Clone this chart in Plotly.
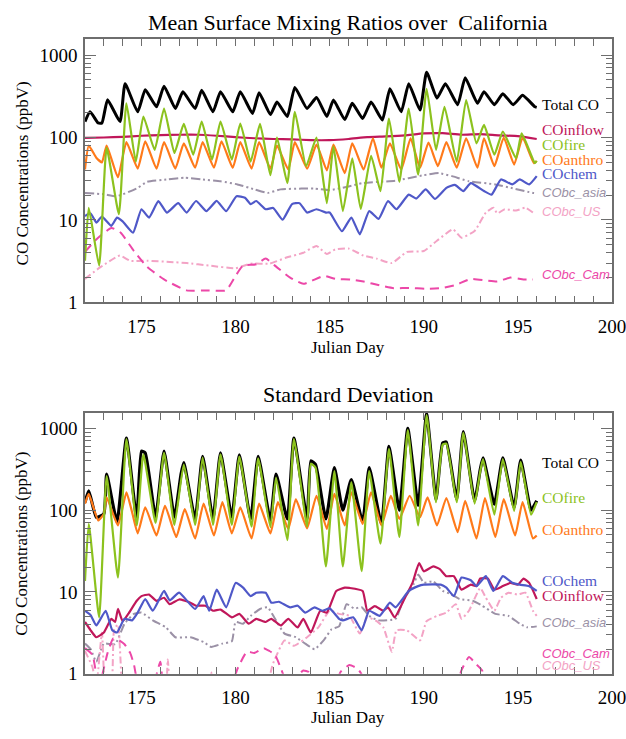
import plotly.graph_objects as go

# ---------------- data: mean mixing ratios (top panel) ----------------
mean_total_day = [172.0,172.27,172.7,172.9,173.2,173.86,174.13,174.8,175.2,175.8,176.2,176.8,177.2,177.85,178.2,178.8,179.2,179.85,180.25,180.9,181.25,181.85,182.2,182.75,183.15,183.8,184.3,184.85,185.2,185.8,186.2,186.75,187.2,187.8,188.2,188.8,189.2,189.8,190.15,190.7,191.15,191.8,192.2,192.85,193.2,193.75,194.2,194.75,195.25,195.9,196.0]
mean_total_val = [156,205,150,150,287,156,450,205,380,236,420,225,358,225,375,205,360,205,360,196,350,190,270,180,405,225,305,180,285,165,260,170,270,163,390,205,450,215,620,300,450,250,530,260,360,250,340,250,325,236,232]

mean_fire_day = [172.0,172.2,172.75,173.15,173.8,174.2,174.7,175.1,175.7,176.2,176.75,177.25,177.75,178.2,178.75,179.2,179.8,180.25,180.8,181.3,181.85,182.2,182.75,183.15,183.75,184.3,184.85,185.2,185.7,186.2,186.65,187.2,187.7,188.15,188.7,189.2,189.7,190.15,190.65,191.1,191.75,192.25,192.8,193.2,193.75,194.2,194.9,195.2,195.9,196.0]
mean_fire_val = [3.2,14,2.8,75,11.8,260,51,180,71,225,65,146,62,156,54,156,54,148,51,146,35,100,28,205,45,100,16,78,12.8,56,13.6,60,22.4,170,29,225,35.5,390,71,236,51,285,85,142,62,118,56,112,49,52]

mean_anthro_day = [172.0,172.2,172.6,172.9,173.15,173.75,174.2,174.8,175.2,175.8,176.2,176.8,177.25,177.85,178.25,178.85,179.25,179.85,180.25,180.85,181.25,181.85,182.2,182.8,183.15,183.8,184.3,184.85,185.2,185.8,186.2,186.8,187.3,187.75,188.2,188.8,189.3,189.8,190.25,190.75,191.2,191.75,192.25,192.85,193.2,193.75,194.25,194.8,195.25,195.85,196.0]
mean_anthro_val = [41,80,57,50,80,33,88,42,90,42,88,42,85,43,88,43,90,43,88,42,88,42,80,41,88,42,82,40,82,37,85,41,98,43,85,41,98,43,87,45,88,43,98,43,98,45,100,47,100,49,52]

mean_inflow_day = [172,173,174,175,176,177,178,179,180,181,182,183,184,185,186,187,188,189,190,191,192,193,194,195,196]
mean_inflow_val = [99,100,102,105,107,108,108,105,101,98,96,95,93,93,96,101,103,106,112,113,108,110,106,104,96]

mean_chem_day = [172.0,172.3,172.6,172.9,173.4,173.7,174.0,174.55,175.0,175.4,175.9,176.35,176.95,177.4,177.9,178.45,179.0,179.5,180.05,180.5,180.8,181.1,181.6,182.0,182.5,183.0,183.4,183.8,184.3,184.8,185.0,185.65,186.15,186.6,187.1,187.6,188.1,188.55,189.2,189.6,190.1,190.6,191.2,191.65,192.1,192.5,193.2,193.6,194.1,194.7,195.1,195.6,196.0]
mean_chem_val = [11.2,12,9.3,11,8.5,10.7,9.6,7.0,13.5,10.7,16.9,12.3,16,12.3,17,12.8,17,12.8,19.4,18.6,15.6,17,13.5,14,10.1,15.6,16,12.3,13.5,12.3,12.3,7.3,10.7,6.7,12.8,10.3,17,13.5,20.3,18.2,23.5,18,24.5,26.6,22.4,28,22.4,20.3,31,27,31,27,34]

mean_asia_day = [172.0,173.0,173.7,174.8,175.3,176.4,177.3,178.2,179.2,180.1,181.0,181.7,182.4,183.5,184.2,185.0,186.0,186.75,188.5,189.9,190.8,191.5,192.4,193.8,194.8,195.8,196.0]
mean_asia_val = [21.3,20.5,19.4,24.5,29,31,32.5,31,29.5,27,23.5,21.3,23.5,24,24,23,25.5,28,30,34.6,37,34,29.5,27,24,21.3,21]

mean_us_day = [172.0,172.8,173.85,174.4,175.3,176.5,177.4,178.6,180.0,180.8,181.8,182.7,183.6,184.3,184.85,185.3,186.0,186.8,187.5,188.3,189.1,190.0,190.7,191.55,192.0,192.7,193.3,193.7,193.9,194.3,194.9,195.4,195.8]
mean_us_val = [1.93,2.66,3.7,3.2,3.2,3.1,3.0,2.8,2.6,2.95,2.95,3.5,4.0,4.85,3.86,4.4,4.5,3.7,3.4,3.0,4.1,4.2,5.6,7.7,6.1,7.35,12.3,14.1,12,13.5,13,14.1,12.3]

mean_cam_day = [172.0,172.6,173.4,173.9,174.6,175.3,176.2,177.4,178.6,179.5,180.0,180.4,181.1,181.6,182.2,182.9,183.6,184.7,185.3,186.1,186.8,187.7,188.4,189.3,190.1,191.0,191.7,192.5,193.3,193.9,194.6,195.3,195.8]
mean_cam_val = [4.1,5.8,8.0,7.0,4.2,2.7,1.9,1.4,1.4,1.4,2.1,2.8,2.9,3.4,2.66,2.0,1.68,2.1,1.93,1.9,1.79,1.6,1.49,1.5,1.46,1.5,1.63,1.93,1.85,1.8,2.0,1.9,1.9]

# ---------------- data: standard deviation (bottom panel) ----------------
std_total_day = [172.0,172.2,172.6,173.0,173.15,173.7,174.2,174.75,175.0,175.2,175.75,176.2,176.75,177.1,177.25,177.85,178.25,178.8,179.2,179.8,180.2,180.8,181.2,181.85,182.15,182.75,183.1,183.8,184.0,184.25,184.8,185.25,185.7,186.15,186.75,187.1,187.75,188.15,188.7,189.15,189.7,190.15,190.65,191.0,191.2,191.75,192.1,192.7,193.0,193.15,193.75,194.2,194.8,195.15,195.7,196.0]
std_total_val = [125,172,82,90,275,72,760,78,525,500,82,525,82,275,380,78,455,78,500,82,475,78,455,75,275,78,760,78,400,360,78,330,100,237,72,330,68,600,100,1000,115,1500,136,660,680,136,910,130,315,435,118,435,108,410,100,130]

std_fire_day = [172.0,172.2,172.75,173.15,173.75,174.2,174.75,175.1,175.75,176.2,176.75,177.25,177.85,178.25,178.8,179.2,179.8,180.2,180.85,181.2,181.85,182.15,182.75,183.1,183.8,184.0,184.25,184.8,185.25,185.7,186.15,186.7,187.1,187.7,188.15,188.7,189.15,189.7,190.15,190.65,191.0,191.2,191.75,192.1,192.7,193.0,193.15,193.75,194.2,194.8,195.15,195.7,196.0]
std_fire_val = [13.6,68,4.9,260,15,740,65,480,70,500,66,360,66,440,66,480,66,450,63,430,62,250,43,740,63,370,330,20.5,300,20.5,220,18,300,39,560,47,950,65,1450,125,630,650,125,880,120,300,420,88,420,98,390,88,125]

std_anthro_day = [172.0,172.2,172.7,173.0,173.15,173.75,174.2,174.5,174.8,175.2,175.8,176.25,176.85,177.3,177.85,178.3,178.85,179.3,179.8,180.25,180.85,181.25,181.85,182.25,182.8,183.2,183.8,184.3,184.85,185.25,185.8,186.15,186.75,187.2,187.75,188.25,188.7,189.25,189.8,190.2,190.7,191.2,191.8,192.2,192.8,193.25,193.8,194.25,194.85,195.25,195.8,196.0]
std_anthro_val = [120,158,75,90,143,65,165,95,52,108,49,113,47,103,45,120,49,125,52,108,45,120,52,125,59,136,60,150,59,158,65,165,68,165,65,150,78,150,82,143,65,140,54,130,45,140,47,136,49,125,45,49]

std_chem_day = [172.0,172.3,172.6,173.1,173.45,173.7,174.1,174.5,174.8,175.2,175.6,176.2,176.5,177.0,177.85,178.3,178.6,179.0,179.5,180.0,180.4,180.8,181.1,181.6,181.9,182.3,182.9,183.3,183.7,184.2,184.6,185.0,185.5,185.7,186.25,186.7,187.1,187.65,188.2,188.5,189.2,189.7,190.0,190.9,191.2,191.6,192.0,192.5,192.8,193.3,193.7,194.2,194.7,195.1,195.6,196.0]
std_chem_val = [5.9,5.2,3.9,5.9,3.4,3.2,4.7,4.5,5.6,8.2,5.9,10.3,7.9,9.8,6.2,8.9,5.9,10.7,6.5,12.9,11.3,8.9,9.8,9.8,7.4,7.6,6.5,6.8,5.6,6.5,5.9,6.3,4.7,4.5,4.9,3.4,5.9,5.1,7.4,6.5,10.3,11.8,12.3,12.3,11.3,8.9,15,13.9,11.8,15.6,10.3,15.6,13,12.3,11.8,10.3]

std_inflow_day = [172.0,172.3,172.6,173.0,173.4,173.6,173.75,174.0,174.3,174.75,175.0,175.4,175.8,176.2,176.5,177.0,177.6,177.9,178.4,178.8,179.2,179.8,180.2,180.7,181.1,181.6,181.9,182.4,182.8,183.3,183.6,184.0,184.5,184.85,185.35,185.8,186.05,186.75,187.0,187.4,187.85,188.1,188.45,189.0,189.4,189.75,190.0,190.5,190.85,191.2,191.6,192.0,192.5,192.8,193.0,193.4,193.75,194.2,194.6,195.0,195.3,195.6,196.0]
std_inflow_val = [4.3,3.4,2.8,3.2,4.7,4.3,6.2,4.4,5.4,7.8,8.9,9.3,7.8,8.5,7.1,8.1,7.4,6.8,6.8,5.9,6.1,4.9,5.4,4.1,4.7,4.3,4.7,3.9,4.7,3.7,4.7,3.2,5.9,5.6,10.3,11.3,11.2,10.3,5.9,6.7,5.9,6.5,4.9,8.5,12.9,22.5,17.9,20.5,19,15.6,15.6,10.7,12.3,11.8,14.6,14.6,10.7,11.8,12.9,12.3,14.6,12.9,8.2]

std_asia_day = [172.0,172.3,172.6,173.0,173.6,174.1,174.6,175.0,175.6,176.3,176.8,177.6,178.3,178.7,179.3,179.8,180.0,180.4,180.8,181.3,181.7,182.1,182.6,183.2,183.7,184.2,184.7,185.1,185.5,185.9,186.3,186.7,187.1,187.6,188.5,188.9,189.45,189.7,190.0,190.5,191.0,191.4,191.9,192.6,193.1,193.8,194.5,195.1,195.5,196.0]
std_asia_val = [2.34,2.0,1.4,2.34,2.3,4.1,5.4,5.6,4.5,3.7,2.8,2.8,2.45,2.13,2.34,2.5,4.3,4.1,5.1,6.2,6.5,4.7,3.1,2.8,2.34,2.0,2.6,3.5,3.8,7.1,6.3,6.5,5.1,4.5,4.7,7.8,12.3,16.3,13,13.5,10.3,9.5,8.2,7.8,6.8,5.4,5.1,4.1,3.7,3.8]

std_us_day = [172.0,172.4,172.6,172.9,173.1,173.4,173.55,173.75,174.0,174.2,176.2,176.4,176.6,178.5,178.7,178.9,181.5,182.0,182.6,183.1,183.8,184.4,185.0,185.5,186.05,186.6,187.0,187.5,187.85,188.3,188.55,189.1,189.8,190.15,190.7,191.2,191.7,192.0,192.4,193.0,193.3,193.75,194.1,194.5,195.0,195.4,195.8,196.0]
std_us_val = [1.9,1.2,0.7,3.2,0.6,0.7,3.5,4.0,0.6,0.5,0.5,1.5,0.6,0.6,1.05,0.6,0.6,1.35,2.56,2.2,2.8,3.7,5.9,5.4,5.1,3.1,4.9,4.4,3.7,1.86,3.4,3.4,2.56,4.4,5.1,5.6,7.1,4.7,5.9,11.2,8.5,5.9,8.5,9.8,9.3,9.8,5.9,5.1]

std_cam_day = [172.0,172.4,172.6,172.8,173.2,173.5,173.9,174.1,174.4,174.6,174.8,175.5,176.0,176.2,177.5,179.5,180.1,180.6,181.0,181.5,181.8,182.1,182.45,182.7,183.3,183.6,183.9,184.2,185.3,185.6,186.05,186.5,186.8,187.5,191.5,192.0,192.4,192.8,193.1,193.3,194.0,196.0]
std_cam_val = [2.06,1.7,1.0,0.8,1.8,2.7,2.5,2.3,1.8,1.3,0.8,0.6,1.4,0.7,0.5,0.5,1.15,1.86,1.8,2.06,1.9,1.7,1.1,0.8,0.95,1.1,1.05,0.8,0.8,1.07,1.28,1.15,0.9,0.5,0.5,1.1,1.6,1.3,1.1,0.8,0.5,0.5]

x_tick_vals = [175, 180, 185, 190, 195, 200]
y_tick_vals = [1, 10, 100, 1000]
y_tick_text = ["1", "10", "100", "1000"]
y_minor_vals = [m * 10 ** e for e in range(0, 4) for m in range(2, 10)]

# ---------------- styles ----------------
C_TOTAL = "#000000"
C_INFLOW = "#c0175a"
C_FIRE = "#8cc21e"
C_ANTHRO = "#ff7a1a"
C_CHEM = "#4f58c8"
C_ASIA = "#9b91a6"
C_US = "#f3a3c5"
C_CAM = "#ec48a8"

DASH_ASIA = "9px,3px,2px,3px,2px,3px"
DASH_US = "7px,3px,2px,3px"
DASH_CAM = "9px,6px"

W, H = 626, 739
L, R = 85, 14
TOP_Y0, TOP_Y1 = 40, 307
BOT_Y0, BOT_Y1 = 419, 684


def py(ypx):
    return 1 - ypx / H


def px(xpx):
    return (xpx - L) / (W - L - R)


fig = go.Figure()

top_series = [
    (mean_total_day, mean_total_val, C_TOTAL, 3.0, "solid"),
    (mean_inflow_day, mean_inflow_val, C_INFLOW, 2.2, "solid"),
    (mean_asia_day, mean_asia_val, C_ASIA, 2.0, DASH_ASIA),
    (mean_us_day, mean_us_val, C_US, 2.0, DASH_US),
    (mean_cam_day, mean_cam_val, C_CAM, 2.0, DASH_CAM),
    (mean_chem_day, mean_chem_val, C_CHEM, 2.2, "solid"),
    (mean_anthro_day, mean_anthro_val, C_ANTHRO, 2.2, "solid"),
    (mean_fire_day, mean_fire_val, C_FIRE, 2.2, "solid"),
]
bot_series = [
    (std_total_day, std_total_val, C_TOTAL, 3.2, "solid"),
    (std_asia_day, std_asia_val, C_ASIA, 2.0, DASH_ASIA),
    (std_us_day, std_us_val, C_US, 2.0, DASH_US),
    (std_cam_day, std_cam_val, C_CAM, 2.0, DASH_CAM),
    (std_inflow_day, std_inflow_val, C_INFLOW, 2.2, "solid"),
    (std_chem_day, std_chem_val, C_CHEM, 2.2, "solid"),
    (std_anthro_day, std_anthro_val, C_ANTHRO, 2.2, "solid"),
    (std_fire_day, std_fire_val, C_FIRE, 2.2, "solid"),
]

for axes, series in (("x|y", top_series), ("x2|y2", bot_series)):
    xa, ya = axes.split("|")
    for xs, ys, col, w, dash in series:
        assert len(xs) == len(ys), (len(xs), len(ys))
        fig.add_trace(go.Scatter(x=xs, y=ys, mode="lines", xaxis=xa, yaxis=ya,
                                 line=dict(color=col, width=w, dash=dash,
                                           shape="spline", smoothing=0.45),
                                 showlegend=False, hoverinfo="skip"))

SERIF = "Liberation Serif, Times New Roman, serif"
SANS = "Liberation Sans, Arial, sans-serif"
AX_COL = "#6e6e6e"

xaxis_common = dict(
    range=[172, 200], tickmode="array", tickvals=x_tick_vals, ticks="inside", ticklen=7,
    tickwidth=1.2, tickcolor=AX_COL, showline=True, linecolor=AX_COL, linewidth=1.5,
    mirror="ticks", showgrid=False, zeroline=False, ticklabeloverflow="allow",
    tickfont=dict(family=SERIF, size=19, color="black"), ticklabelstandoff=6,
    minor=dict(ticks="inside", ticklen=7, tickwidth=1.2, tickcolor=AX_COL, dtick=1, showgrid=False),
)
yaxis_common = dict(
    type="log", range=[0, 3.19], tickmode="array", tickvals=y_tick_vals, ticktext=y_tick_text,
    ticks="inside", ticklen=11, tickwidth=1.2, tickcolor=AX_COL, showline=True,
    linecolor=AX_COL, linewidth=1.5, mirror="ticks", showgrid=False, zeroline=False,
    tickfont=dict(family=SERIF, size=19, color="black"), ticklabelstandoff=2,
    minor=dict(ticks="inside", ticklen=6, tickwidth=1.2, tickcolor=AX_COL,
               tickmode="array", tickvals=y_minor_vals, showgrid=False),
)

fig.update_layout(
    width=W, height=H, margin=dict(l=L, r=R, t=0, b=0),
    paper_bgcolor="white", plot_bgcolor="white",
    xaxis=dict(domain=[0, 1], anchor="y", **xaxis_common),
    yaxis=dict(domain=[py(TOP_Y1), py(TOP_Y0)], anchor="x", **yaxis_common),
    xaxis2=dict(domain=[0, 1], anchor="y2", **xaxis_common),
    yaxis2=dict(domain=[py(BOT_Y1), py(BOT_Y0)], anchor="x2", **yaxis_common),
)

ann = []


def add_text(text, xp, yp, size, color="black", family=SERIF, xanchor="center", angle=0):
    ann.append(dict(text=text, x=px(xp), y=py(yp), xref="paper", yref="paper",
                    xanchor=xanchor, yanchor="middle", showarrow=False, textangle=angle,
                    font=dict(family=family, size=size, color=color)))


add_text("Mean Surface Mixing Ratios over\u00a0 California", 348, 23, 22)
add_text("Standard Deviation", 348, 400, 22)
add_text("Julian Day", 348, 353, 17)
add_text("Julian Day", 348, 728, 17)
add_text("CO Concentrations (ppbV)", 22, 176, 17, angle=-90)
add_text("CO Concentrations (ppbV)", 22, 552, 17, angle=-90)

LX = 540
top_labels = [
    ("Total CO", 106, C_TOTAL, SERIF, False),
    ("COinflow", 131, C_INFLOW, SERIF, False),
    ("COfire", 147, C_FIRE, SERIF, False),
    ("COanthro", 162, C_ANTHRO, SERIF, False),
    ("COchem", 176, C_CHEM, SERIF, False),
    ("CObc_asia", 195, C_ASIA, SANS, True),
    ("CObc_US", 215, C_US, SANS, True),
    ("CObc_Cam", 279, C_CAM, SANS, True),
]
bot_labels = [
    ("Total CO", 469, C_TOTAL, SERIF, False),
    ("COfire", 505, C_FIRE, SERIF, False),
    ("COanthro", 538, C_ANTHRO, SERIF, False),
    ("COchem", 589, C_CHEM, SERIF, False),
    ("COinflow", 604, C_INFLOW, SERIF, False),
    ("CObc_asia", 632, C_ASIA, SANS, True),
    ("CObc_Cam", 663, C_CAM, SANS, True),
    ("CObc_US", 676, C_US, SANS, True),
]
for text, yp, col, fam, ital in top_labels + bot_labels:
    t = f"<i>{text}</i>" if ital else text
    add_text(t, LX, yp, 13 if ital else 15.5, color=col, family=fam, xanchor="left")

fig.update_layout(annotations=ann)
fig.write_html("out.html")
